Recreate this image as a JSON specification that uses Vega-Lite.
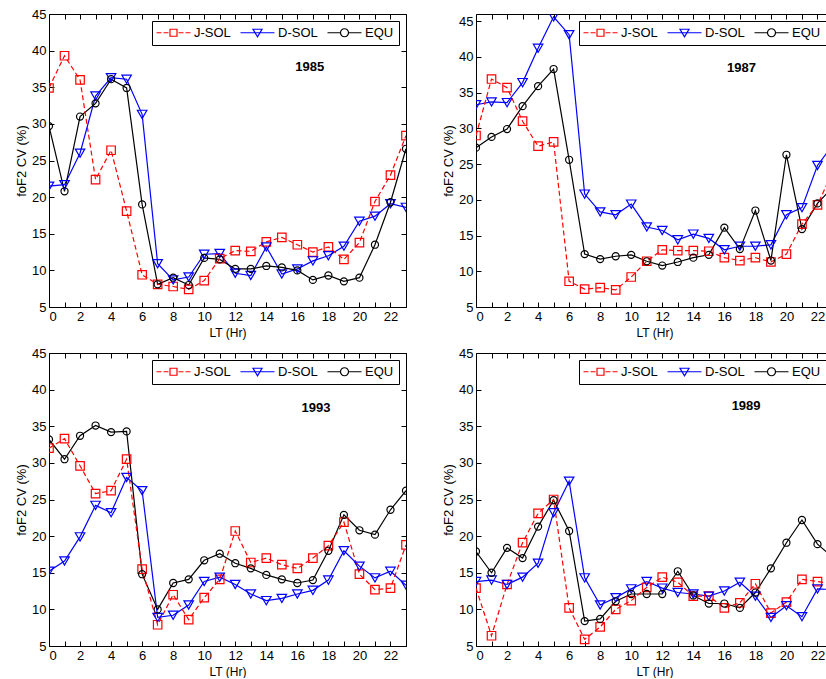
{
  "$schema": "https://vega.github.io/schema/vega-lite/v6.json",
  "background": "white",
  "padding": {"left": 14, "top": 7, "right": 0, "bottom": 0},
  "config": {
    "font": "Liberation Sans",
    "view": {"stroke": "black", "strokeWidth": 1},
    "axis": {"domain": false, "ticks": false, "tickSize": 0, "labelColor": "black", "titleColor": "black", "labelFont": "Liberation Sans", "titleFont": "Liberation Sans", "labelFontSize": 13, "titleFontSize": 12, "titleFontWeight": "normal", "grid": false, "gridColor": "#000000", "gridOpacity": 1, "gridWidth": 1},
    "legend": {"orient": "top-right", "offset": 7, "direction": "horizontal", "strokeColor": "black", "strokeWidth": 1, "fillColor": "white", "padding": 5, "labelFont": "Liberation Sans", "labelFontSize": 13, "labelColor": "black", "symbolSize": 4, "symbolOffset": 10, "labelOffset": 14, "columnPadding": 7, "symbolStrokeWidth": 1.2, "symbolOpacity": 1, "symbolFillColor": "transparent"}
  },
  "datasets": {
    "labels": [
      {"year": "1985", "lt": 16.8, "cv": 37.8},
      {"year": "1987", "lt": 17.1, "cv": 38.5},
      {"year": "1993", "lt": 17.2, "cv": 37.5},
      {"year": "1989", "lt": 17.4, "cv": 37.7}
    ],
    "cv": [
      {"year":"1985","series":"J-SOL","lt":0,"cv":34.9},{"year":"1985","series":"J-SOL","lt":1,"cv":39.3},{"year":"1985","series":"J-SOL","lt":2,"cv":36.0},{"year":"1985","series":"J-SOL","lt":3,"cv":22.4},{"year":"1985","series":"J-SOL","lt":4,"cv":26.4},{"year":"1985","series":"J-SOL","lt":5,"cv":18.1},{"year":"1985","series":"J-SOL","lt":6,"cv":9.4},{"year":"1985","series":"J-SOL","lt":7,"cv":8.1},{"year":"1985","series":"J-SOL","lt":8,"cv":7.8},{"year":"1985","series":"J-SOL","lt":9,"cv":7.4},{"year":"1985","series":"J-SOL","lt":10,"cv":8.6},{"year":"1985","series":"J-SOL","lt":11,"cv":11.6},{"year":"1985","series":"J-SOL","lt":12,"cv":12.7},{"year":"1985","series":"J-SOL","lt":13,"cv":12.6},{"year":"1985","series":"J-SOL","lt":14,"cv":13.9},{"year":"1985","series":"J-SOL","lt":15,"cv":14.5},{"year":"1985","series":"J-SOL","lt":16,"cv":13.5},{"year":"1985","series":"J-SOL","lt":17,"cv":12.5},{"year":"1985","series":"J-SOL","lt":18,"cv":13.2},{"year":"1985","series":"J-SOL","lt":19,"cv":11.5},{"year":"1985","series":"J-SOL","lt":20,"cv":13.8},{"year":"1985","series":"J-SOL","lt":21,"cv":19.4},{"year":"1985","series":"J-SOL","lt":22,"cv":23.0},{"year":"1985","series":"J-SOL","lt":23,"cv":28.4},
      {"year":"1985","series":"D-SOL","lt":0,"cv":21.5},{"year":"1985","series":"D-SOL","lt":1,"cv":21.7},{"year":"1985","series":"D-SOL","lt":2,"cv":26.0},{"year":"1985","series":"D-SOL","lt":3,"cv":33.8},{"year":"1985","series":"D-SOL","lt":4,"cv":36.3},{"year":"1985","series":"D-SOL","lt":5,"cv":36.1},{"year":"1985","series":"D-SOL","lt":6,"cv":31.3},{"year":"1985","series":"D-SOL","lt":7,"cv":10.9},{"year":"1985","series":"D-SOL","lt":8,"cv":8.7},{"year":"1985","series":"D-SOL","lt":9,"cv":9.1},{"year":"1985","series":"D-SOL","lt":10,"cv":12.2},{"year":"1985","series":"D-SOL","lt":11,"cv":12.3},{"year":"1985","series":"D-SOL","lt":12,"cv":9.6},{"year":"1985","series":"D-SOL","lt":13,"cv":9.3},{"year":"1985","series":"D-SOL","lt":14,"cv":13.2},{"year":"1985","series":"D-SOL","lt":15,"cv":9.5},{"year":"1985","series":"D-SOL","lt":16,"cv":10.2},{"year":"1985","series":"D-SOL","lt":17,"cv":11.3},{"year":"1985","series":"D-SOL","lt":18,"cv":12.0},{"year":"1985","series":"D-SOL","lt":19,"cv":13.3},{"year":"1985","series":"D-SOL","lt":20,"cv":16.7},{"year":"1985","series":"D-SOL","lt":21,"cv":17.4},{"year":"1985","series":"D-SOL","lt":22,"cv":19.1},{"year":"1985","series":"D-SOL","lt":23,"cv":18.6},
      {"year":"1985","series":"EQU","lt":0,"cv":29.7},{"year":"1985","series":"EQU","lt":1,"cv":20.8},{"year":"1985","series":"EQU","lt":2,"cv":31.0},{"year":"1985","series":"EQU","lt":3,"cv":32.8},{"year":"1985","series":"EQU","lt":4,"cv":36.1},{"year":"1985","series":"EQU","lt":5,"cv":34.9},{"year":"1985","series":"EQU","lt":6,"cv":19.0},{"year":"1985","series":"EQU","lt":7,"cv":8.1},{"year":"1985","series":"EQU","lt":8,"cv":9.0},{"year":"1985","series":"EQU","lt":9,"cv":8.0},{"year":"1985","series":"EQU","lt":10,"cv":11.7},{"year":"1985","series":"EQU","lt":11,"cv":11.5},{"year":"1985","series":"EQU","lt":12,"cv":10.2},{"year":"1985","series":"EQU","lt":13,"cv":10.2},{"year":"1985","series":"EQU","lt":14,"cv":10.6},{"year":"1985","series":"EQU","lt":15,"cv":10.4},{"year":"1985","series":"EQU","lt":16,"cv":10.0},{"year":"1985","series":"EQU","lt":17,"cv":8.7},{"year":"1985","series":"EQU","lt":18,"cv":9.3},{"year":"1985","series":"EQU","lt":19,"cv":8.5},{"year":"1985","series":"EQU","lt":20,"cv":9.0},{"year":"1985","series":"EQU","lt":21,"cv":13.5},{"year":"1985","series":"EQU","lt":22,"cv":19.3},{"year":"1985","series":"EQU","lt":23,"cv":26.6},
      {"year":"1987","series":"J-SOL","lt":0,"cv":29.0},{"year":"1987","series":"J-SOL","lt":1,"cv":36.9},{"year":"1987","series":"J-SOL","lt":2,"cv":35.7},{"year":"1987","series":"J-SOL","lt":3,"cv":31.0},{"year":"1987","series":"J-SOL","lt":4,"cv":27.5},{"year":"1987","series":"J-SOL","lt":5,"cv":28.1},{"year":"1987","series":"J-SOL","lt":6,"cv":8.6},{"year":"1987","series":"J-SOL","lt":7,"cv":7.5},{"year":"1987","series":"J-SOL","lt":8,"cv":7.7},{"year":"1987","series":"J-SOL","lt":9,"cv":7.4},{"year":"1987","series":"J-SOL","lt":10,"cv":9.2},{"year":"1987","series":"J-SOL","lt":11,"cv":11.4},{"year":"1987","series":"J-SOL","lt":12,"cv":13.0},{"year":"1987","series":"J-SOL","lt":13,"cv":12.9},{"year":"1987","series":"J-SOL","lt":14,"cv":12.9},{"year":"1987","series":"J-SOL","lt":15,"cv":12.8},{"year":"1987","series":"J-SOL","lt":16,"cv":11.9},{"year":"1987","series":"J-SOL","lt":17,"cv":11.5},{"year":"1987","series":"J-SOL","lt":18,"cv":11.9},{"year":"1987","series":"J-SOL","lt":19,"cv":11.3},{"year":"1987","series":"J-SOL","lt":20,"cv":12.4},{"year":"1987","series":"J-SOL","lt":21,"cv":16.6},{"year":"1987","series":"J-SOL","lt":22,"cv":19.3},{"year":"1987","series":"J-SOL","lt":23,"cv":24.0},
      {"year":"1987","series":"D-SOL","lt":0,"cv":33.3},{"year":"1987","series":"D-SOL","lt":1,"cv":33.7},{"year":"1987","series":"D-SOL","lt":2,"cv":33.6},{"year":"1987","series":"D-SOL","lt":3,"cv":36.4},{"year":"1987","series":"D-SOL","lt":4,"cv":41.2},{"year":"1987","series":"D-SOL","lt":5,"cv":45.6},{"year":"1987","series":"D-SOL","lt":6,"cv":43.1},{"year":"1987","series":"D-SOL","lt":7,"cv":20.8},{"year":"1987","series":"D-SOL","lt":8,"cv":18.3},{"year":"1987","series":"D-SOL","lt":9,"cv":17.9},{"year":"1987","series":"D-SOL","lt":10,"cv":19.4},{"year":"1987","series":"D-SOL","lt":11,"cv":16.2},{"year":"1987","series":"D-SOL","lt":12,"cv":15.7},{"year":"1987","series":"D-SOL","lt":13,"cv":14.4},{"year":"1987","series":"D-SOL","lt":14,"cv":15.2},{"year":"1987","series":"D-SOL","lt":15,"cv":14.6},{"year":"1987","series":"D-SOL","lt":16,"cv":13.0},{"year":"1987","series":"D-SOL","lt":17,"cv":13.5},{"year":"1987","series":"D-SOL","lt":18,"cv":13.5},{"year":"1987","series":"D-SOL","lt":19,"cv":13.7},{"year":"1987","series":"D-SOL","lt":20,"cv":17.9},{"year":"1987","series":"D-SOL","lt":21,"cv":18.9},{"year":"1987","series":"D-SOL","lt":22,"cv":24.8},{"year":"1987","series":"D-SOL","lt":23,"cv":27.7},
      {"year":"1987","series":"EQU","lt":0,"cv":27.3},{"year":"1987","series":"EQU","lt":1,"cv":28.8},{"year":"1987","series":"EQU","lt":2,"cv":29.9},{"year":"1987","series":"EQU","lt":3,"cv":33.1},{"year":"1987","series":"EQU","lt":4,"cv":35.9},{"year":"1987","series":"EQU","lt":5,"cv":38.3},{"year":"1987","series":"EQU","lt":6,"cv":25.6},{"year":"1987","series":"EQU","lt":7,"cv":12.4},{"year":"1987","series":"EQU","lt":8,"cv":11.7},{"year":"1987","series":"EQU","lt":9,"cv":12.1},{"year":"1987","series":"EQU","lt":10,"cv":12.3},{"year":"1987","series":"EQU","lt":11,"cv":11.4},{"year":"1987","series":"EQU","lt":12,"cv":10.8},{"year":"1987","series":"EQU","lt":13,"cv":11.3},{"year":"1987","series":"EQU","lt":14,"cv":11.9},{"year":"1987","series":"EQU","lt":15,"cv":12.3},{"year":"1987","series":"EQU","lt":16,"cv":16.1},{"year":"1987","series":"EQU","lt":17,"cv":13.1},{"year":"1987","series":"EQU","lt":18,"cv":18.5},{"year":"1987","series":"EQU","lt":19,"cv":11.5},{"year":"1987","series":"EQU","lt":20,"cv":26.3},{"year":"1987","series":"EQU","lt":21,"cv":15.9},{"year":"1987","series":"EQU","lt":22,"cv":19.5},{"year":"1987","series":"EQU","lt":23,"cv":21.8},
      {"year":"1993","series":"J-SOL","lt":0,"cv":32.0},{"year":"1993","series":"J-SOL","lt":1,"cv":33.3},{"year":"1993","series":"J-SOL","lt":2,"cv":29.6},{"year":"1993","series":"J-SOL","lt":3,"cv":25.8},{"year":"1993","series":"J-SOL","lt":4,"cv":26.2},{"year":"1993","series":"J-SOL","lt":5,"cv":30.5},{"year":"1993","series":"J-SOL","lt":6,"cv":15.5},{"year":"1993","series":"J-SOL","lt":7,"cv":7.9},{"year":"1993","series":"J-SOL","lt":8,"cv":12.0},{"year":"1993","series":"J-SOL","lt":9,"cv":8.6},{"year":"1993","series":"J-SOL","lt":10,"cv":11.6},{"year":"1993","series":"J-SOL","lt":11,"cv":14.1},{"year":"1993","series":"J-SOL","lt":12,"cv":20.7},{"year":"1993","series":"J-SOL","lt":13,"cv":16.4},{"year":"1993","series":"J-SOL","lt":14,"cv":17.0},{"year":"1993","series":"J-SOL","lt":15,"cv":16.1},{"year":"1993","series":"J-SOL","lt":16,"cv":15.6},{"year":"1993","series":"J-SOL","lt":17,"cv":17.0},{"year":"1993","series":"J-SOL","lt":18,"cv":18.7},{"year":"1993","series":"J-SOL","lt":19,"cv":21.9},{"year":"1993","series":"J-SOL","lt":20,"cv":14.8},{"year":"1993","series":"J-SOL","lt":21,"cv":12.7},{"year":"1993","series":"J-SOL","lt":22,"cv":12.9},{"year":"1993","series":"J-SOL","lt":23,"cv":18.8},
      {"year":"1993","series":"D-SOL","lt":0,"cv":15.2},{"year":"1993","series":"D-SOL","lt":1,"cv":16.6},{"year":"1993","series":"D-SOL","lt":2,"cv":19.9},{"year":"1993","series":"D-SOL","lt":3,"cv":24.2},{"year":"1993","series":"D-SOL","lt":4,"cv":23.2},{"year":"1993","series":"D-SOL","lt":5,"cv":28.0},{"year":"1993","series":"D-SOL","lt":6,"cv":26.2},{"year":"1993","series":"D-SOL","lt":7,"cv":8.9},{"year":"1993","series":"D-SOL","lt":8,"cv":9.2},{"year":"1993","series":"D-SOL","lt":9,"cv":10.6},{"year":"1993","series":"D-SOL","lt":10,"cv":13.8},{"year":"1993","series":"D-SOL","lt":11,"cv":14.4},{"year":"1993","series":"D-SOL","lt":12,"cv":13.4},{"year":"1993","series":"D-SOL","lt":13,"cv":12.1},{"year":"1993","series":"D-SOL","lt":14,"cv":11.2},{"year":"1993","series":"D-SOL","lt":15,"cv":11.5},{"year":"1993","series":"D-SOL","lt":16,"cv":12.1},{"year":"1993","series":"D-SOL","lt":17,"cv":12.6},{"year":"1993","series":"D-SOL","lt":18,"cv":14.0},{"year":"1993","series":"D-SOL","lt":19,"cv":18.0},{"year":"1993","series":"D-SOL","lt":20,"cv":15.9},{"year":"1993","series":"D-SOL","lt":21,"cv":14.3},{"year":"1993","series":"D-SOL","lt":22,"cv":15.2},{"year":"1993","series":"D-SOL","lt":23,"cv":13.3},
      {"year":"1993","series":"EQU","lt":0,"cv":33.2},{"year":"1993","series":"EQU","lt":1,"cv":30.5},{"year":"1993","series":"EQU","lt":2,"cv":33.7},{"year":"1993","series":"EQU","lt":3,"cv":35.1},{"year":"1993","series":"EQU","lt":4,"cv":34.2},{"year":"1993","series":"EQU","lt":5,"cv":34.3},{"year":"1993","series":"EQU","lt":6,"cv":14.8},{"year":"1993","series":"EQU","lt":7,"cv":10.0},{"year":"1993","series":"EQU","lt":8,"cv":13.6},{"year":"1993","series":"EQU","lt":9,"cv":14.1},{"year":"1993","series":"EQU","lt":10,"cv":16.7},{"year":"1993","series":"EQU","lt":11,"cv":17.6},{"year":"1993","series":"EQU","lt":12,"cv":16.3},{"year":"1993","series":"EQU","lt":13,"cv":15.6},{"year":"1993","series":"EQU","lt":14,"cv":14.7},{"year":"1993","series":"EQU","lt":15,"cv":14.1},{"year":"1993","series":"EQU","lt":16,"cv":13.6},{"year":"1993","series":"EQU","lt":17,"cv":14.0},{"year":"1993","series":"EQU","lt":18,"cv":18.0},{"year":"1993","series":"EQU","lt":19,"cv":22.9},{"year":"1993","series":"EQU","lt":20,"cv":20.8},{"year":"1993","series":"EQU","lt":21,"cv":20.2},{"year":"1993","series":"EQU","lt":22,"cv":23.6},{"year":"1993","series":"EQU","lt":23,"cv":26.2},
      {"year":"1989","series":"J-SOL","lt":0,"cv":12.9},{"year":"1989","series":"J-SOL","lt":1,"cv":6.4},{"year":"1989","series":"J-SOL","lt":2,"cv":13.4},{"year":"1989","series":"J-SOL","lt":3,"cv":19.1},{"year":"1989","series":"J-SOL","lt":4,"cv":23.1},{"year":"1989","series":"J-SOL","lt":5,"cv":25.0},{"year":"1989","series":"J-SOL","lt":6,"cv":10.2},{"year":"1989","series":"J-SOL","lt":7,"cv":5.9},{"year":"1989","series":"J-SOL","lt":8,"cv":7.6},{"year":"1989","series":"J-SOL","lt":9,"cv":10.0},{"year":"1989","series":"J-SOL","lt":10,"cv":11.2},{"year":"1989","series":"J-SOL","lt":11,"cv":13.0},{"year":"1989","series":"J-SOL","lt":12,"cv":14.4},{"year":"1989","series":"J-SOL","lt":13,"cv":13.7},{"year":"1989","series":"J-SOL","lt":14,"cv":11.8},{"year":"1989","series":"J-SOL","lt":15,"cv":11.8},{"year":"1989","series":"J-SOL","lt":16,"cv":10.2},{"year":"1989","series":"J-SOL","lt":17,"cv":10.9},{"year":"1989","series":"J-SOL","lt":18,"cv":13.5},{"year":"1989","series":"J-SOL","lt":19,"cv":9.5},{"year":"1989","series":"J-SOL","lt":20,"cv":11.0},{"year":"1989","series":"J-SOL","lt":21,"cv":14.1},{"year":"1989","series":"J-SOL","lt":22,"cv":13.8},{"year":"1989","series":"J-SOL","lt":23,"cv":13.5},
      {"year":"1989","series":"D-SOL","lt":0,"cv":13.8},{"year":"1989","series":"D-SOL","lt":1,"cv":14.0},{"year":"1989","series":"D-SOL","lt":2,"cv":13.4},{"year":"1989","series":"D-SOL","lt":3,"cv":14.4},{"year":"1989","series":"D-SOL","lt":4,"cv":16.3},{"year":"1989","series":"D-SOL","lt":5,"cv":23.2},{"year":"1989","series":"D-SOL","lt":6,"cv":27.5},{"year":"1989","series":"D-SOL","lt":7,"cv":14.3},{"year":"1989","series":"D-SOL","lt":8,"cv":10.6},{"year":"1989","series":"D-SOL","lt":9,"cv":11.6},{"year":"1989","series":"D-SOL","lt":10,"cv":12.8},{"year":"1989","series":"D-SOL","lt":11,"cv":13.8},{"year":"1989","series":"D-SOL","lt":12,"cv":12.9},{"year":"1989","series":"D-SOL","lt":13,"cv":12.3},{"year":"1989","series":"D-SOL","lt":14,"cv":12.1},{"year":"1989","series":"D-SOL","lt":15,"cv":11.8},{"year":"1989","series":"D-SOL","lt":16,"cv":12.5},{"year":"1989","series":"D-SOL","lt":17,"cv":13.7},{"year":"1989","series":"D-SOL","lt":18,"cv":11.8},{"year":"1989","series":"D-SOL","lt":19,"cv":8.9},{"year":"1989","series":"D-SOL","lt":20,"cv":10.5},{"year":"1989","series":"D-SOL","lt":21,"cv":9.0},{"year":"1989","series":"D-SOL","lt":22,"cv":12.8},{"year":"1989","series":"D-SOL","lt":23,"cv":12.7},
      {"year":"1989","series":"EQU","lt":0,"cv":17.9},{"year":"1989","series":"EQU","lt":1,"cv":15.0},{"year":"1989","series":"EQU","lt":2,"cv":18.4},{"year":"1989","series":"EQU","lt":3,"cv":17.0},{"year":"1989","series":"EQU","lt":4,"cv":21.3},{"year":"1989","series":"EQU","lt":5,"cv":24.9},{"year":"1989","series":"EQU","lt":6,"cv":20.7},{"year":"1989","series":"EQU","lt":7,"cv":8.4},{"year":"1989","series":"EQU","lt":8,"cv":8.7},{"year":"1989","series":"EQU","lt":9,"cv":11.1},{"year":"1989","series":"EQU","lt":10,"cv":12.1},{"year":"1989","series":"EQU","lt":11,"cv":12.1},{"year":"1989","series":"EQU","lt":12,"cv":12.1},{"year":"1989","series":"EQU","lt":13,"cv":15.2},{"year":"1989","series":"EQU","lt":14,"cv":11.9},{"year":"1989","series":"EQU","lt":15,"cv":10.8},{"year":"1989","series":"EQU","lt":16,"cv":10.8},{"year":"1989","series":"EQU","lt":17,"cv":10.2},{"year":"1989","series":"EQU","lt":18,"cv":12.3},{"year":"1989","series":"EQU","lt":19,"cv":15.6},{"year":"1989","series":"EQU","lt":20,"cv":19.1},{"year":"1989","series":"EQU","lt":21,"cv":22.2},{"year":"1989","series":"EQU","lt":22,"cv":18.9},{"year":"1989","series":"EQU","lt":23,"cv":17.1}
    ]
  },
  "data": {"name": "cv"},
  "columns": 2,
  "bounds": "flush",
  "spacing": {"row": 46, "column": 70},
  "resolve": {"scale": {"x": "independent", "y": "independent"}, "legend": {"color": "independent", "shape": "independent"}},
  "concat": [
    {
      "width": 357, "height": 293,
      "resolve": {"axis": {"x": "independent", "y": "independent"}},
      "layer": [
        {
          "transform": [{"filter": "datum.year === '1985' && datum.series !== 'J-SOL'"}],
          "mark": {"type": "line", "strokeWidth": 1.2, "clip": true},
          "encoding": {
            "x": {"field": "lt", "type": "quantitative", "scale": {"domain": [0, 23], "nice": false, "zero": false}, "axis": {"orient": "bottom", "values": [0,1,2,3,4,5,6,7,8,9,10,11,12,13,14,15,16,17,18,19,20,21,22,23], "labelExpr": "datum.value % 2 === 0 ? datum.label : ''", "title": "LT (Hr)", "labelPadding": 3, "titlePadding": 4, "grid": true, "gridDash": [5, 283, 5, 1000]}},
            "y": {"field": "cv", "type": "quantitative", "scale": {"domain": [5, 45], "nice": false, "zero": false}, "axis": {"orient": "left", "values": [5,10,15,20,25,30,35,40,45], "title": "foF2 CV (%)", "titleFontSize": 13, "labelPadding": 3, "titlePadding": 3.5, "grid": true, "gridDash": [5, 347, 5, 1000]}},
            "detail": {"field": "series"},
            "color": {"condition": {"test": "datum.series === 'D-SOL'", "value": "#0000ff"}, "value": "#000000"}
          }
        },
        {
          "transform": [{"filter": "datum.year === '1985' && datum.series === 'J-SOL'"}],
          "mark": {"type": "line", "strokeWidth": 1.2, "clip": true, "strokeDash": [5, 3], "color": "#ff0000"},
          "encoding": {
            "x": {"field": "lt", "type": "quantitative", "scale": {"domain": [0, 23], "nice": false, "zero": false}, "axis": null},
            "y": {"field": "cv", "type": "quantitative", "scale": {"domain": [5, 45], "nice": false, "zero": false}, "axis": null}
          }
        },
        {
          "transform": [{"filter": "datum.year === '1985'"}],
          "mark": {"type": "point", "filled": false, "strokeWidth": 1.2, "clip": true, "opacity": 1},
          "encoding": {
            "x": {"field": "lt", "type": "quantitative", "scale": {"domain": [0, 23], "nice": false, "zero": false}, "axis": null},
            "y": {"field": "cv", "type": "quantitative", "scale": {"domain": [5, 45], "nice": false, "zero": false}, "axis": null},
            "shape": {"condition": [{"test": "datum.series === 'J-SOL'", "value": "square"}, {"test": "datum.series === 'D-SOL'", "value": "triangle-down"}], "value": "circle"},
            "stroke": {"condition": [{"test": "datum.series === 'J-SOL'", "value": "#ff0000"}, {"test": "datum.series === 'D-SOL'", "value": "#0000ff"}], "value": "#000000"},
            "size": {"condition": [{"test": "datum.series === 'J-SOL'", "value": 72}, {"test": "datum.series === 'D-SOL'", "value": 90}], "value": 50}
          }
        },
        {
          "transform": [{"filter": "datum.year === '1985'"}],
          "mark": {"type": "point", "filled": false, "opacity": 0, "size": 4},
          "encoding": {
            "x": {"field": "lt", "type": "quantitative", "scale": {"domain": [0, 23], "nice": false, "zero": false}, "axis": null},
            "y": {"field": "cv", "type": "quantitative", "scale": {"domain": [5, 45], "nice": false, "zero": false}, "axis": null},
            "color": {"field": "series", "type": "nominal", "scale": {"domain": ["J-SOL", "D-SOL", "EQU"], "range": ["#ff0000", "#0000ff", "#000000"]}, "legend": {"title": null}},
            "shape": {"field": "series", "type": "nominal", "scale": {"domain": ["J-SOL", "D-SOL", "EQU"], "range": ["M-17,0H-12M-10,0H-5M-3.5,-3.5H3.5V3.5H-3.5ZM5,0H10M12,0H17", "M-17,0H17M-4.5,-3.5H4.5L0,4Z", "M-17,0H-4M4,0H17M4,0A4,4 0 1 1 -4,0A4,4 0 1 1 4,0Z"]}, "legend": {"title": null}}
          }
        },
        {
          "data": {"name": "labels"},
          "transform": [{"filter": "datum.year === '1985'"}],
          "mark": {"type": "text", "fontWeight": "bold", "fontSize": 13, "font": "Liberation Sans", "color": "black", "baseline": "middle", "align": "center"},
          "encoding": {
            "x": {"field": "lt", "type": "quantitative", "scale": {"domain": [0, 23], "nice": false, "zero": false}, "axis": null},
            "y": {"field": "cv", "type": "quantitative", "scale": {"domain": [5, 45], "nice": false, "zero": false}, "axis": null},
            "text": {"field": "year"}
          }
        }
      ]
    },
    {
      "width": 357, "height": 293,
      "resolve": {"axis": {"x": "independent", "y": "independent"}},
      "layer": [
        {
          "transform": [{"filter": "datum.year === '1987' && datum.series !== 'J-SOL'"}],
          "mark": {"type": "line", "strokeWidth": 1.2, "clip": true},
          "encoding": {
            "x": {"field": "lt", "type": "quantitative", "scale": {"domain": [0, 23], "nice": false, "zero": false}, "axis": {"orient": "bottom", "values": [0,1,2,3,4,5,6,7,8,9,10,11,12,13,14,15,16,17,18,19,20,21,22,23], "labelExpr": "datum.value % 2 === 0 ? datum.label : ''", "title": "LT (Hr)", "labelPadding": 3, "titlePadding": 4, "grid": true, "gridDash": [5, 283, 5, 1000]}},
            "y": {"field": "cv", "type": "quantitative", "scale": {"domain": [5, 46], "nice": false, "zero": false}, "axis": {"orient": "left", "values": [5,10,15,20,25,30,35,40,45], "title": "foF2 CV (%)", "titleFontSize": 13, "labelPadding": 3, "titlePadding": 3.5, "grid": true, "gridDash": [5, 347, 5, 1000]}},
            "detail": {"field": "series"},
            "color": {"condition": {"test": "datum.series === 'D-SOL'", "value": "#0000ff"}, "value": "#000000"}
          }
        },
        {
          "transform": [{"filter": "datum.year === '1987' && datum.series === 'J-SOL'"}],
          "mark": {"type": "line", "strokeWidth": 1.2, "clip": true, "strokeDash": [5, 3], "color": "#ff0000"},
          "encoding": {
            "x": {"field": "lt", "type": "quantitative", "scale": {"domain": [0, 23], "nice": false, "zero": false}, "axis": null},
            "y": {"field": "cv", "type": "quantitative", "scale": {"domain": [5, 46], "nice": false, "zero": false}, "axis": null}
          }
        },
        {
          "transform": [{"filter": "datum.year === '1987'"}],
          "mark": {"type": "point", "filled": false, "strokeWidth": 1.2, "clip": true, "opacity": 1},
          "encoding": {
            "x": {"field": "lt", "type": "quantitative", "scale": {"domain": [0, 23], "nice": false, "zero": false}, "axis": null},
            "y": {"field": "cv", "type": "quantitative", "scale": {"domain": [5, 46], "nice": false, "zero": false}, "axis": null},
            "shape": {"condition": [{"test": "datum.series === 'J-SOL'", "value": "square"}, {"test": "datum.series === 'D-SOL'", "value": "triangle-down"}], "value": "circle"},
            "stroke": {"condition": [{"test": "datum.series === 'J-SOL'", "value": "#ff0000"}, {"test": "datum.series === 'D-SOL'", "value": "#0000ff"}], "value": "#000000"},
            "size": {"condition": [{"test": "datum.series === 'J-SOL'", "value": 72}, {"test": "datum.series === 'D-SOL'", "value": 90}], "value": 50}
          }
        },
        {
          "transform": [{"filter": "datum.year === '1987'"}],
          "mark": {"type": "point", "filled": false, "opacity": 0, "size": 4},
          "encoding": {
            "x": {"field": "lt", "type": "quantitative", "scale": {"domain": [0, 23], "nice": false, "zero": false}, "axis": null},
            "y": {"field": "cv", "type": "quantitative", "scale": {"domain": [5, 46], "nice": false, "zero": false}, "axis": null},
            "color": {"field": "series", "type": "nominal", "scale": {"domain": ["J-SOL", "D-SOL", "EQU"], "range": ["#ff0000", "#0000ff", "#000000"]}, "legend": {"title": null}},
            "shape": {"field": "series", "type": "nominal", "scale": {"domain": ["J-SOL", "D-SOL", "EQU"], "range": ["M-17,0H-12M-10,0H-5M-3.5,-3.5H3.5V3.5H-3.5ZM5,0H10M12,0H17", "M-17,0H17M-4.5,-3.5H4.5L0,4Z", "M-17,0H-4M4,0H17M4,0A4,4 0 1 1 -4,0A4,4 0 1 1 4,0Z"]}, "legend": {"title": null}}
          }
        },
        {
          "data": {"name": "labels"},
          "transform": [{"filter": "datum.year === '1987'"}],
          "mark": {"type": "text", "fontWeight": "bold", "fontSize": 13, "font": "Liberation Sans", "color": "black", "baseline": "middle", "align": "center"},
          "encoding": {
            "x": {"field": "lt", "type": "quantitative", "scale": {"domain": [0, 23], "nice": false, "zero": false}, "axis": null},
            "y": {"field": "cv", "type": "quantitative", "scale": {"domain": [5, 46], "nice": false, "zero": false}, "axis": null},
            "text": {"field": "year"}
          }
        }
      ]
    },
    {
      "width": 357, "height": 293,
      "resolve": {"axis": {"x": "independent", "y": "independent"}},
      "layer": [
        {
          "transform": [{"filter": "datum.year === '1993' && datum.series !== 'J-SOL'"}],
          "mark": {"type": "line", "strokeWidth": 1.2, "clip": true},
          "encoding": {
            "x": {"field": "lt", "type": "quantitative", "scale": {"domain": [0, 23], "nice": false, "zero": false}, "axis": {"orient": "bottom", "values": [0,1,2,3,4,5,6,7,8,9,10,11,12,13,14,15,16,17,18,19,20,21,22,23], "labelExpr": "datum.value % 2 === 0 ? datum.label : ''", "title": "LT (Hr)", "labelPadding": 3, "titlePadding": 4, "grid": true, "gridDash": [5, 283, 5, 1000]}},
            "y": {"field": "cv", "type": "quantitative", "scale": {"domain": [5, 45], "nice": false, "zero": false}, "axis": {"orient": "left", "values": [5,10,15,20,25,30,35,40,45], "title": "foF2 CV (%)", "titleFontSize": 13, "labelPadding": 3, "titlePadding": 3.5, "grid": true, "gridDash": [5, 347, 5, 1000]}},
            "detail": {"field": "series"},
            "color": {"condition": {"test": "datum.series === 'D-SOL'", "value": "#0000ff"}, "value": "#000000"}
          }
        },
        {
          "transform": [{"filter": "datum.year === '1993' && datum.series === 'J-SOL'"}],
          "mark": {"type": "line", "strokeWidth": 1.2, "clip": true, "strokeDash": [5, 3], "color": "#ff0000"},
          "encoding": {
            "x": {"field": "lt", "type": "quantitative", "scale": {"domain": [0, 23], "nice": false, "zero": false}, "axis": null},
            "y": {"field": "cv", "type": "quantitative", "scale": {"domain": [5, 45], "nice": false, "zero": false}, "axis": null}
          }
        },
        {
          "transform": [{"filter": "datum.year === '1993'"}],
          "mark": {"type": "point", "filled": false, "strokeWidth": 1.2, "clip": true, "opacity": 1},
          "encoding": {
            "x": {"field": "lt", "type": "quantitative", "scale": {"domain": [0, 23], "nice": false, "zero": false}, "axis": null},
            "y": {"field": "cv", "type": "quantitative", "scale": {"domain": [5, 45], "nice": false, "zero": false}, "axis": null},
            "shape": {"condition": [{"test": "datum.series === 'J-SOL'", "value": "square"}, {"test": "datum.series === 'D-SOL'", "value": "triangle-down"}], "value": "circle"},
            "stroke": {"condition": [{"test": "datum.series === 'J-SOL'", "value": "#ff0000"}, {"test": "datum.series === 'D-SOL'", "value": "#0000ff"}], "value": "#000000"},
            "size": {"condition": [{"test": "datum.series === 'J-SOL'", "value": 72}, {"test": "datum.series === 'D-SOL'", "value": 90}], "value": 50}
          }
        },
        {
          "transform": [{"filter": "datum.year === '1993'"}],
          "mark": {"type": "point", "filled": false, "opacity": 0, "size": 4},
          "encoding": {
            "x": {"field": "lt", "type": "quantitative", "scale": {"domain": [0, 23], "nice": false, "zero": false}, "axis": null},
            "y": {"field": "cv", "type": "quantitative", "scale": {"domain": [5, 45], "nice": false, "zero": false}, "axis": null},
            "color": {"field": "series", "type": "nominal", "scale": {"domain": ["J-SOL", "D-SOL", "EQU"], "range": ["#ff0000", "#0000ff", "#000000"]}, "legend": {"title": null}},
            "shape": {"field": "series", "type": "nominal", "scale": {"domain": ["J-SOL", "D-SOL", "EQU"], "range": ["M-17,0H-12M-10,0H-5M-3.5,-3.5H3.5V3.5H-3.5ZM5,0H10M12,0H17", "M-17,0H17M-4.5,-3.5H4.5L0,4Z", "M-17,0H-4M4,0H17M4,0A4,4 0 1 1 -4,0A4,4 0 1 1 4,0Z"]}, "legend": {"title": null}}
          }
        },
        {
          "data": {"name": "labels"},
          "transform": [{"filter": "datum.year === '1993'"}],
          "mark": {"type": "text", "fontWeight": "bold", "fontSize": 13, "font": "Liberation Sans", "color": "black", "baseline": "middle", "align": "center"},
          "encoding": {
            "x": {"field": "lt", "type": "quantitative", "scale": {"domain": [0, 23], "nice": false, "zero": false}, "axis": null},
            "y": {"field": "cv", "type": "quantitative", "scale": {"domain": [5, 45], "nice": false, "zero": false}, "axis": null},
            "text": {"field": "year"}
          }
        }
      ]
    },
    {
      "width": 357, "height": 293,
      "resolve": {"axis": {"x": "independent", "y": "independent"}},
      "layer": [
        {
          "transform": [{"filter": "datum.year === '1989' && datum.series !== 'J-SOL'"}],
          "mark": {"type": "line", "strokeWidth": 1.2, "clip": true},
          "encoding": {
            "x": {"field": "lt", "type": "quantitative", "scale": {"domain": [0, 23], "nice": false, "zero": false}, "axis": {"orient": "bottom", "values": [0,1,2,3,4,5,6,7,8,9,10,11,12,13,14,15,16,17,18,19,20,21,22,23], "labelExpr": "datum.value % 2 === 0 ? datum.label : ''", "title": "LT (Hr)", "labelPadding": 3, "titlePadding": 4, "grid": true, "gridDash": [5, 283, 5, 1000]}},
            "y": {"field": "cv", "type": "quantitative", "scale": {"domain": [5, 45], "nice": false, "zero": false}, "axis": {"orient": "left", "values": [5,10,15,20,25,30,35,40,45], "title": "foF2 CV (%)", "titleFontSize": 13, "labelPadding": 3, "titlePadding": 3.5, "grid": true, "gridDash": [5, 347, 5, 1000]}},
            "detail": {"field": "series"},
            "color": {"condition": {"test": "datum.series === 'D-SOL'", "value": "#0000ff"}, "value": "#000000"}
          }
        },
        {
          "transform": [{"filter": "datum.year === '1989' && datum.series === 'J-SOL'"}],
          "mark": {"type": "line", "strokeWidth": 1.2, "clip": true, "strokeDash": [5, 3], "color": "#ff0000"},
          "encoding": {
            "x": {"field": "lt", "type": "quantitative", "scale": {"domain": [0, 23], "nice": false, "zero": false}, "axis": null},
            "y": {"field": "cv", "type": "quantitative", "scale": {"domain": [5, 45], "nice": false, "zero": false}, "axis": null}
          }
        },
        {
          "transform": [{"filter": "datum.year === '1989'"}],
          "mark": {"type": "point", "filled": false, "strokeWidth": 1.2, "clip": true, "opacity": 1},
          "encoding": {
            "x": {"field": "lt", "type": "quantitative", "scale": {"domain": [0, 23], "nice": false, "zero": false}, "axis": null},
            "y": {"field": "cv", "type": "quantitative", "scale": {"domain": [5, 45], "nice": false, "zero": false}, "axis": null},
            "shape": {"condition": [{"test": "datum.series === 'J-SOL'", "value": "square"}, {"test": "datum.series === 'D-SOL'", "value": "triangle-down"}], "value": "circle"},
            "stroke": {"condition": [{"test": "datum.series === 'J-SOL'", "value": "#ff0000"}, {"test": "datum.series === 'D-SOL'", "value": "#0000ff"}], "value": "#000000"},
            "size": {"condition": [{"test": "datum.series === 'J-SOL'", "value": 72}, {"test": "datum.series === 'D-SOL'", "value": 90}], "value": 50}
          }
        },
        {
          "transform": [{"filter": "datum.year === '1989'"}],
          "mark": {"type": "point", "filled": false, "opacity": 0, "size": 4},
          "encoding": {
            "x": {"field": "lt", "type": "quantitative", "scale": {"domain": [0, 23], "nice": false, "zero": false}, "axis": null},
            "y": {"field": "cv", "type": "quantitative", "scale": {"domain": [5, 45], "nice": false, "zero": false}, "axis": null},
            "color": {"field": "series", "type": "nominal", "scale": {"domain": ["J-SOL", "D-SOL", "EQU"], "range": ["#ff0000", "#0000ff", "#000000"]}, "legend": {"title": null}},
            "shape": {"field": "series", "type": "nominal", "scale": {"domain": ["J-SOL", "D-SOL", "EQU"], "range": ["M-17,0H-12M-10,0H-5M-3.5,-3.5H3.5V3.5H-3.5ZM5,0H10M12,0H17", "M-17,0H17M-4.5,-3.5H4.5L0,4Z", "M-17,0H-4M4,0H17M4,0A4,4 0 1 1 -4,0A4,4 0 1 1 4,0Z"]}, "legend": {"title": null}}
          }
        },
        {
          "data": {"name": "labels"},
          "transform": [{"filter": "datum.year === '1989'"}],
          "mark": {"type": "text", "fontWeight": "bold", "fontSize": 13, "font": "Liberation Sans", "color": "black", "baseline": "middle", "align": "center"},
          "encoding": {
            "x": {"field": "lt", "type": "quantitative", "scale": {"domain": [0, 23], "nice": false, "zero": false}, "axis": null},
            "y": {"field": "cv", "type": "quantitative", "scale": {"domain": [5, 45], "nice": false, "zero": false}, "axis": null},
            "text": {"field": "year"}
          }
        }
      ]
    }
  ]
}
